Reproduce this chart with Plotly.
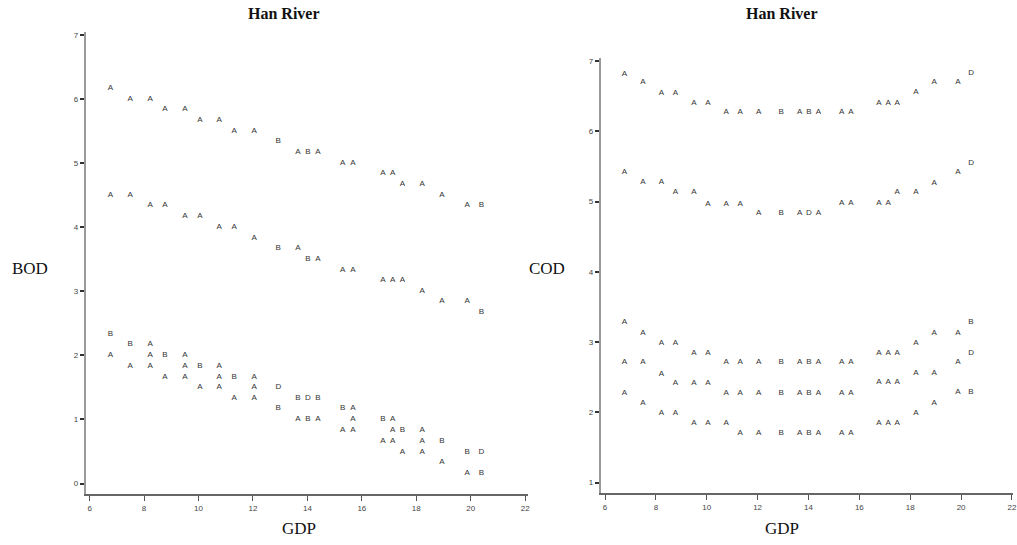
import plotly.graph_objects as go

# ---------------- data ----------------
gdp = [6.76, 7.49, 8.22, 8.77, 9.50, 10.05, 10.76, 11.31, 12.04, 12.93, 13.65,
       14.02, 14.39, 15.30, 15.67, 16.77, 17.13, 17.49, 18.22, 18.94, 19.87, 20.39]

# BOD panel
bod_top = [6.17, 6.01, 6.01, 5.85, 5.85, 5.68, 5.68, 5.51, 5.51, 5.34, 5.17,
           5.18, 5.18, 5.01, 5.01, 4.84, 4.84, 4.67, 4.67, 4.51, 4.35, 4.35]
bod_top_lab = ["A"] * 9 + ["B", "A", "B"] + ["A"] * 9 + ["B"]
bod_mid = [4.51, 4.51, 4.34, 4.34, 4.17, 4.17, 4.00, 4.00, 3.83, 3.68, 3.68,
           3.51, 3.51, 3.34, 3.34, 3.17, 3.17, 3.17, 3.01, 2.85, 2.85, 2.67]
bod_mid_lab = ["A"] * 9 + ["B", "A", "B"] + ["A"] * 9 + ["B"]

bod_low_x = [6.76, 6.76, 7.49, 7.49, 8.22, 8.22, 8.22, 8.77, 8.77,
             9.50, 9.50, 9.50, 10.05, 10.05, 10.76, 10.76, 10.76, 11.31, 11.31,
             12.04, 12.04, 12.04, 12.93, 12.93, 13.65, 13.65, 14.02, 14.02,
             14.39, 14.39, 15.30, 15.30, 15.67, 15.67, 15.67, 16.77, 16.77,
             17.13, 17.13, 17.13, 17.49, 17.49, 18.22, 18.22, 18.22,
             18.94, 18.94, 19.87, 19.87, 20.39, 20.39]
bod_low_y = [2.33, 2.00, 2.18, 1.83, 2.18, 2.00, 1.83, 2.00, 1.67,
             2.00, 1.83, 1.67, 1.83, 1.50, 1.83, 1.67, 1.50, 1.67, 1.34,
             1.67, 1.50, 1.34, 1.50, 1.18, 1.34, 1.00, 1.34, 1.00,
             1.34, 1.00, 1.18, 0.83, 1.18, 1.00, 0.83, 1.00, 0.67,
             1.00, 0.83, 0.67, 0.83, 0.50, 0.83, 0.67, 0.50,
             0.67, 0.33, 0.50, 0.17, 0.50, 0.17]
bod_low_lab = ["B", "A", "B", "A", "A", "A", "A", "B", "A",
               "A", "A", "A", "B", "A", "A", "A", "A", "B", "A",
               "A", "A", "A", "D", "B", "B", "A", "D", "B",
               "B", "A", "B", "A", "A", "A", "A", "B", "A",
               "A", "A", "A", "B", "A", "A", "A", "A",
               "B", "A", "B", "A", "D", "B"]

# COD panel
cod_top = [6.82, 6.70, 6.55, 6.55, 6.41, 6.41, 6.27, 6.27, 6.27, 6.27, 6.27,
           6.27, 6.27, 6.27, 6.27, 6.41, 6.41, 6.41, 6.56, 6.70, 6.70, 6.83]
cod_top_lab = ["A"] * 9 + ["B", "A", "B"] + ["A"] * 9 + ["D"]
cod_mid = [5.42, 5.28, 5.28, 5.13, 5.13, 4.97, 4.97, 4.97, 4.84, 4.84, 4.84,
           4.84, 4.84, 4.98, 4.98, 4.98, 4.98, 5.13, 5.13, 5.27, 5.42, 5.55]
cod_mid_lab = ["A"] * 9 + ["B", "A", "D"] + ["A"] * 9 + ["D"]

cod_low_a = [3.28, 3.13, 2.98, 2.98, 2.84, 2.84, 2.71, 2.71, 2.71, 2.71, 2.71,
             2.71, 2.71, 2.71, 2.71, 2.85, 2.85, 2.85, 2.99, 3.13, 3.13, 3.28]
cod_low_a_lab = ["A"] * 9 + ["B", "A", "B"] + ["A"] * 9 + ["B"]
cod_low_b = [2.71, 2.71, 2.55, 2.42, 2.42, 2.42, 2.28, 2.28, 2.28, 2.28, 2.28,
             2.28, 2.28, 2.28, 2.28, 2.43, 2.43, 2.43, 2.56, 2.56, 2.71, 2.85]
cod_low_b_lab = ["A"] * 9 + ["B", "A", "B"] + ["A"] * 9 + ["D"]
cod_low_c = [2.28, 2.13, 1.99, 1.99, 1.85, 1.85, 1.85, 1.70, 1.70, 1.70, 1.70,
             1.70, 1.70, 1.70, 1.70, 1.85, 1.85, 1.85, 1.99, 2.13, 2.29, 2.29]
cod_low_c_lab = ["A"] * 9 + ["B", "A", "B"] + ["A"] * 9 + ["B"]

x_ticks = [6, 8, 10, 12, 14, 16, 18, 20, 22]
bod_ticks = [0, 1, 2, 3, 4, 5, 6, 7]
cod_ticks = [1, 2, 3, 4, 5, 6, 7]

# ---------------- figure ----------------
W, H = 1017, 545
fig = go.Figure()

txt_font = dict(family="Arial, Liberation Sans, sans-serif", size=8, color="#333333")


def add_text(xs, ys, labs, xa, ya):
    fig.add_trace(go.Scatter(x=xs, y=ys, text=labs, mode="text",
                             textposition="middle center", textfont=txt_font,
                             xaxis=xa, yaxis=ya, showlegend=False,
                             hoverinfo="x+y+text"))


add_text(gdp, bod_top, bod_top_lab, "x", "y")
add_text(gdp, bod_mid, bod_mid_lab, "x", "y")
add_text(bod_low_x, bod_low_y, bod_low_lab, "x", "y")

add_text(gdp, cod_top, cod_top_lab, "x2", "y2")
add_text(gdp, cod_mid, cod_mid_lab, "x2", "y2")
add_text(gdp, cod_low_a, cod_low_a_lab, "x2", "y2")
add_text(gdp, cod_low_b, cod_low_b_lab, "x2", "y2")
add_text(gdp, cod_low_c, cod_low_c_lab, "x2", "y2")

tick_font = dict(family="Arial, Liberation Sans, sans-serif", size=8, color="#444444")


def xaxis_style(domain, rng):
    return dict(domain=domain, range=rng, tickmode="array", tickvals=x_ticks,
                ticks="outside", ticklen=5, tickwidth=1, tickcolor="#555555",
                showline=True, linecolor="#666666", linewidth=2,
                showgrid=False, zeroline=False, tickfont=tick_font,
                ticklabeloverflow="allow")


def yaxis_style(domain, rng, vals):
    return dict(domain=domain, range=rng, tickmode="array", tickvals=vals,
                ticks="outside", ticklen=4, tickwidth=1.5, tickcolor="#333333",
                showline=True, linecolor="#9a9a9a", linewidth=1.5,
                showgrid=False, zeroline=False, tickfont=tick_font)


fig.update_layout(
    width=W, height=H,
    margin=dict(l=0, r=0, t=0, b=0),
    paper_bgcolor="white", plot_bgcolor="white",
    xaxis=xaxis_style([86 / W, 530 / W], [5.854, 22.1]),
    yaxis=yaxis_style([1 - 494 / H, 1 - 30 / H], [-0.166, 7.05], bod_ticks),
    xaxis2=dict(anchor="y2", **xaxis_style([603 / W, 1.0], [5.828, 22.04])),
    yaxis2=dict(anchor="x2", **yaxis_style([1 - 493.3 / H, 1 - 56.7 / H], [0.844, 7.037], cod_ticks)),
)
fig.update_layout(xaxis=dict(anchor="y"), yaxis=dict(anchor="x"))

serif = "Liberation Serif, Times New Roman, serif"
ann = [
    dict(text="<b>Han River</b>", x=285, y=12, size=16),
    dict(text="<b>Han River</b>", x=785, y=12, size=16),
    dict(text="BOD", x=30, y=267, size=17),
    dict(text="GDP", x=300, y=528, size=17),
    dict(text="COD", x=549, y=267, size=17),
    dict(text="GDP", x=785, y=528, size=17),
]
for a in ann:
    fig.add_annotation(text=a["text"], x=a["x"] / W, y=1 - a["y"] / H,
                       xref="paper", yref="paper", showarrow=False,
                       xanchor="center", yanchor="middle",
                       font=dict(family=serif, size=a["size"], color="#111111"))

fig.write_html("out.html")
